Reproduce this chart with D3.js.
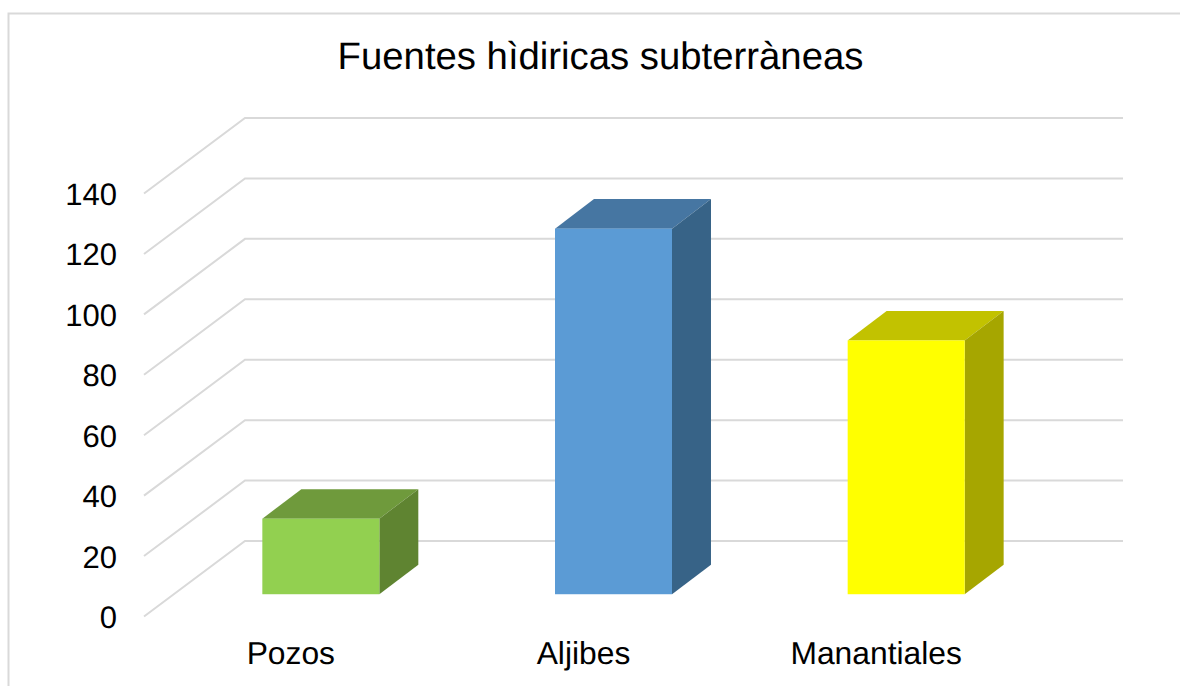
<!DOCTYPE html>
<html><head><meta charset="utf-8">
<script src="https://cdn.jsdelivr.net/npm/d3@7/dist/d3.min.js"></script>
<style>html,body{margin:0;padding:0;background:#fff}svg{display:block}text{font-family:"Liberation Sans",Arial,sans-serif;fill:#000;text-rendering:geometricPrecision}</style>
</head><body><svg id="c" width="1180" height="686"></svg>
<script>
const titleText = "Fuentes hìdiricas subterràneas";
const categories = ["Pozos","Aljibes","Manantiales"];
const values = [25,121,84];
const yTicks = [0,20,40,60,80,100,120,140];
const frontColors = ["#92d050","#5b9bd5","#ffff00"];
const topColors = ["#6f9a3c","#4676a2","#c2c200"];
const sideColors = ["#5f8431","#376387","#a6a600"];

const svg = d3.select("#c");
const grid = "#d9d9d9";
const floorLeft = 144, floorRight = 1022, depthX = 101, depthY = -75.5;
const y = d3.scaleLinear().domain([0,140]).range([616.5,193.5]);
const x = d3.scaleBand().domain(categories).range([floorLeft,floorRight]);
const near = [depthX*0.302, depthY*0.295], far = [depthX*0.688, depthY*0.686];
const barW = 117;

svg.append("path").attr("d","M8.5,686V13.5H1180").attr("fill","none").attr("stroke",grid).attr("stroke-width",2);

svg.append("text").attr("x",600.5).attr("y",69).attr("text-anchor","middle").attr("font-size",38.3).text(titleText);

const g = svg.append("g");
yTicks.forEach(t=>{
  g.append("path").attr("fill","none").attr("stroke",grid).attr("stroke-width",2)
   .attr("d",d3.line()([[floorLeft,y(t)],[floorLeft+depthX,y(t)+depthY],[floorRight+depthX,y(t)+depthY]]));
  svg.append("text").attr("x",117).attr("y",y(t)+11.5).attr("text-anchor","end").attr("font-size",31).text(t);
});

categories.forEach((c,i)=>{
  const cx = x(c)+x.bandwidth()/2;
  const l = cx-barW/2+near[0], r = l+barW;
  const b = y(0)+near[1], t = y(values[i])+near[1];
  const dx = far[0]-near[0], dy = far[1]-near[1];
  const poly = pts=>d3.line()(pts)+"Z";
  svg.append("path").attr("fill",topColors[i]).attr("d",poly([[l,t],[r,t],[r+dx,t+dy],[l+dx,t+dy]]));
  svg.append("path").attr("fill",sideColors[i]).attr("d",poly([[r,t],[r+dx,t+dy],[r+dx,b+dy],[r,b]]));
  svg.append("rect").attr("x",l).attr("y",t).attr("width",barW).attr("height",b-t).attr("fill",frontColors[i]);
  svg.append("text").attr("x",cx+0.5).attr("y",664).attr("text-anchor","middle").attr("font-size",31.8).text(c);
});
</script></body></html>
